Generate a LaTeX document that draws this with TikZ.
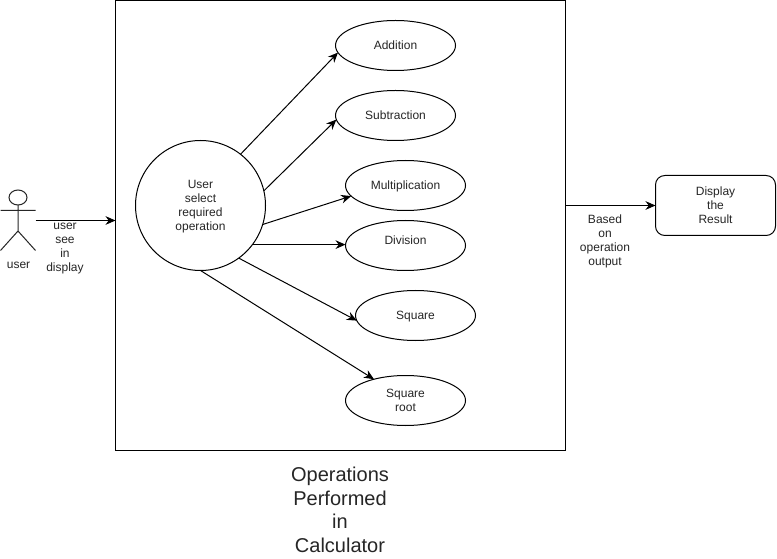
\documentclass[tikz,border=0pt]{standalone}
\usepackage{fontspec}
\setmainfont{Liberation Sans}
\usetikzlibrary{arrows.meta,shapes.geometric}
\newcommand{\shifted}[2]{\raisebox{#1}[\height][\depth]{\begin{tabular}{@{}c@{}}#2\end{tabular}}}
\tikzset{
  x=0.75pt,y=-0.75pt,
  base/.style={inner sep=0pt,outer sep=0pt,align=center,text=black!85,font=\fontsize{9}{10.5}\selectfont},
  usecase/.style={base,draw=black,line width=0.75pt,ellipse,minimum width=90pt,minimum height=37.5pt,fill=white},
  lbl/.style={base},
  conn/.style={draw=black,line width=0.75pt,-{Stealth[length=7.5pt,width=6.5pt]}},
  stick/.style={draw=black!85,line width=0.75pt}
}
\begin{document}
\begin{tikzpicture}
\useasboundingbox (0,0) rectangle (777,559);
\fill[white] (0,0) rectangle (777,559);
\node[base,draw=black,line width=0.75pt,minimum width=337.5pt,minimum height=337.5pt] (sys) at (340.5,225.5) {};
\node[base,draw=black,line width=0.75pt,circle,minimum size=97.5pt] (sel) at (200.5,205.5) {\shifted{-1.2pt}{User\\select\\required\\operation}};
\node[usecase] (add) at (395.5,45.5) {\shifted{-1.2pt}{Addition}};
\node[usecase] (sub) at (395.5,115.5) {\shifted{-1.2pt}{Subtraction}};
\node[usecase] (mul) at (405.5,185.5) {\shifted{-1pt}{Multiplication}};
\node[usecase] (div) at (405.5,245.5) {\shifted{2.8pt}{Division}};
\node[usecase] (squ) at (415.5,315.5) {\shifted{-1.2pt}{Square}};
\node[usecase] (roo) at (405.5,400.5) {Square\\root};
\node[base,draw=black,line width=0.75pt,rounded corners=7pt,minimum width=90pt,minimum height=45pt] (res) at (715.5,205.5) {Display\\the\\Result};
\draw[conn] (sel.52) -- (add.187);
\draw[conn] (sel.13) -- (sub.184);
\draw[conn] (sel.-17) -- (mul.191);
\draw[conn] (sel.-37) -- (div.west |- sel.-37);
\draw[conn] (sel.-54) -- (squ.185);
\draw[conn] (sel.-90) -- (roo.146);
% actor
\draw[stick] (18,197.5) ellipse [x radius=9,y radius=7.5];
\draw[stick] (18,205) -- (18,231) (0.5,210.5) -- (35.5,210.5) (0.5,250.5) -- (18,231) -- (35.5,250.5);
\coordinate (act) at (35.5,220.5);
\draw[conn] (act) -- (act -| sys.west);
\coordinate (out) at (565.5,205.5);
\draw[conn] (out) -- (res.west);
\node[lbl] (au) at (18.5,265) {user};
\node[lbl] (al) at (65,248.5) {user\\see\\in\\display};
\node[lbl] (ol) at (605,241.5) {Based\\on\\operation\\output};
\node[base,font=\fontsize{15}{17.6}\selectfont] (title) at (340,510) {Operations\\Performed\\in\\Calculator};
\end{tikzpicture}
\end{document}
